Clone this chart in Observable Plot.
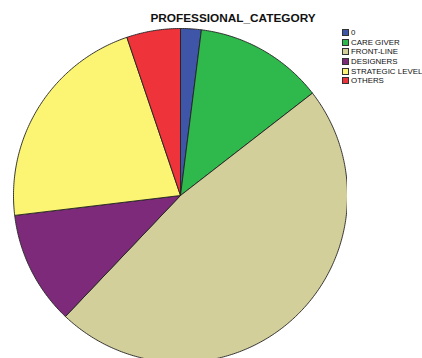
<!DOCTYPE html>
<html>
<head>
<meta charset="utf-8">
<script src="https://cdn.jsdelivr.net/npm/d3@7"></script>
<script src="https://cdn.jsdelivr.net/npm/@observablehq/plot@0.6"></script>
<style>
  html, body { margin: 0; padding: 0; background: #fff; overflow: hidden; }
  #wrap { position: relative; width: 422px; height: 358px; }
  #title { position: absolute; left: 0; width: 466px; top: 11px; text-align: center;
    font-family: "Liberation Sans", Arial, sans-serif; font-weight: bold; font-size: 11.8px; color: #111; }
  #legend { position: absolute; left: 342px; top: 28px; font-family: "Liberation Sans", Arial, sans-serif;
    font-size: 7.9px; color: #111; white-space: nowrap; }
  .item { height: 9.6px; display: flex; align-items: center; }
  .sw { width: 5px; height: 5px; border: 0.8px solid #333; margin-right: 2px; flex: none; }
</style>
</head>
<body>
<div id="wrap">
  <div id="chart"></div>
  <div id="title">PROFESSIONAL_CATEGORY</div>
  <div id="legend"></div>
</div>
<script>
const categories = ["0", "CARE GIVER", "FRONT-LINE", "DESIGNERS", "STRATEGIC LEVEL", "OTHERS"];
const percents = [2.0, 12.5, 47.6, 11.0, 21.7, 5.2];
const colors = ["#3f55a8", "#2fb84b", "#d3cf9b", "#7d2a7b", "#fbf573", "#ef333b"];

const arcs = d3.pie().sort(null).startAngle(0).endAngle(2 * Math.PI)(percents);
const pts = [];
arcs.forEach((a, i) => {
  const n = Math.max(4, Math.ceil((a.endAngle - a.startAngle) * 80));
  pts.push({cat: categories[i], x: 0, y: 0});
  for (let k = 0; k <= n; k++) {
    const t = a.startAngle + (a.endAngle - a.startAngle) * k / n;
    pts.push({cat: categories[i], x: Math.sin(t), y: Math.cos(t)});
  }
  pts.push({cat: categories[i], x: 0, y: 0});
});

const R = 167;
const plot = Plot.plot({
  width: 422,
  height: 358,
  marginLeft: 13,
  marginRight: 75,
  marginTop: 28,
  marginBottom: 0,
  x: {domain: [-1, 1], axis: null},
  y: {domain: [1 - 330 / R, 1], axis: null},
  color: {domain: categories, range: colors},
  marks: [
    Plot.line(pts, {x: "x", y: "y", z: "cat", fill: "cat", stroke: "#222", strokeWidth: 0.9, curve: "linear", clip: true})
  ]
});
document.getElementById("chart").appendChild(plot);

const leg = document.getElementById("legend");
categories.forEach((c, i) => {
  const d = document.createElement("div");
  d.className = "item";
  d.innerHTML = `<span class="sw" style="background:${colors[i]}"></span><span>${c}</span>`;
  leg.appendChild(d);
});
</script>
</body>
</html>
